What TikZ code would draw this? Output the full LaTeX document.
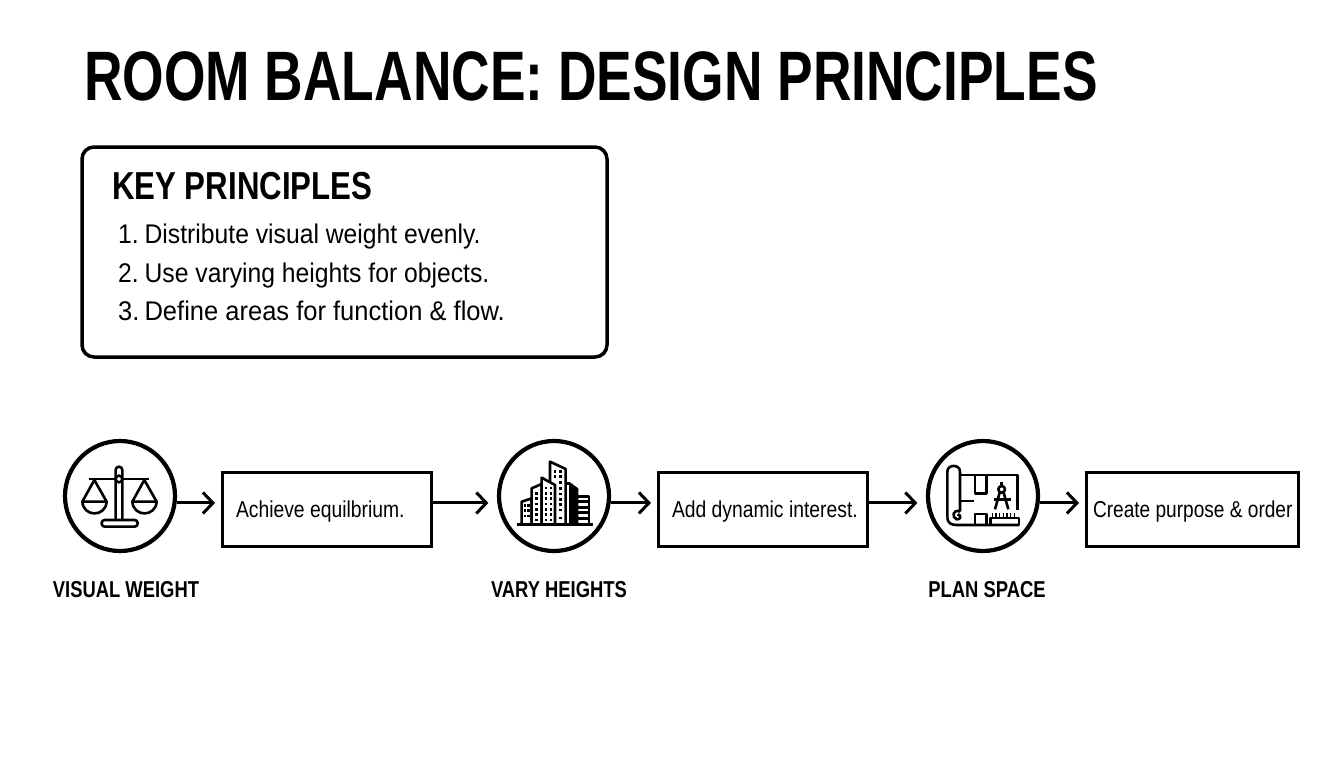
\documentclass[tikz,border=0pt]{standalone}
\usepackage{fontspec}
\setmainfont{Liberation Sans}
\newfontfamily\condfont[FakeStretch=0.8]{Liberation Sans}
\newfontfamily\titlefont[FakeStretch=0.762]{Liberation Sans}
\newfontfamily\listfont[FakeStretch=0.915]{Liberation Sans}
\newfontfamily\widelistfont[FakeStretch=0.945]{Liberation Sans}
\newfontfamily\boxfont[FakeStretch=0.84]{Liberation Sans}
\newfontfamily\lastboxfont[FakeStretch=0.83]{Liberation Sans}
\usetikzlibrary{arrows.meta}
\tikzset{
  stepcircle/.style={circle,draw,line width=4.2pt,minimum size=110pt,inner sep=0pt},
  stepbox/.style={rectangle,draw,line width=3pt,minimum height=74pt,inner xsep=14pt,inner ysep=0pt,align=flush left,text width=181pt,text height=16pt,text depth=0pt,font=\boxfont\fontsize{23}{26}\selectfont},
  steparrow/.style={line width=3pt,-{Straight Barb[length=10pt,width=21pt,line width=3pt]},shorten >=5.5pt},
  tocircle/.style={steparrow,shorten >=8.5pt},
  steplabel/.style={font=\condfont\bfseries\fontsize{23}{26}\selectfont},
  listline/.style={anchor=base west,inner sep=0pt,font=\listfont\fontsize{27}{32}\selectfont},
  iconline/.style={line width=2.6pt,line join=round},
}
\begin{document}
\begin{tikzpicture}[x=1pt,y=-1pt]
\useasboundingbox (0,0) rectangle (1344,768);

\node[anchor=base west,inner sep=0pt,font=\titlefont\bfseries\fontsize{70}{80}\selectfont] (title) at (84,100) {ROOM BALANCE: DESIGN PRINCIPLES};

\draw[line width=3.5pt,rounded corners=12pt] (82,147) rectangle (607,357);
\node[anchor=base west,inner sep=0pt,font=\condfont\bfseries\fontsize{39}{44}\selectfont] (keyhead) at (112,199) {KEY PRINCIPLES};
\node[listline] (item1) at (118,243) {1.\kern-1pt\ Distribute visual weight evenly.};
\node[listline] (item2) at (118,282) {2.\kern-1pt\ Use varying heights for objects.};
\node[listline,font=\widelistfont\fontsize{27}{32}\selectfont] (item3) at (118,320) {3.\kern-2pt\ Define areas for function \& flow.};

\node[stepcircle] (weight) at (120,496) {};
\node[stepcircle] (heights) at (554,496) {};
\node[stepcircle] (space) at (983,496) {};
\node[stepbox] (equil) at (326.5,509) {\mbox{Achieve equilbrium.}};
\node[stepbox] (interest) at (762.5,509) {\mbox{Add dynamic interest.}};
\node[stepbox,inner xsep=7pt,text width=198pt,font=\lastboxfont\fontsize{23}{26}\selectfont] (order) at (1192,509) {\mbox{Create purpose \& order}};

\draw[steparrow] (weight.-7) -- (equil.west |- weight.-7);
\draw[tocircle] (equil.east |- weight.-7) -- (heights.west |- weight.-7);
\draw[steparrow] (heights.-7) -- (interest.west |- heights.-7);
\draw[tocircle] (interest.east |- heights.-7) -- (space.west |- heights.-7);
\draw[steparrow] (space.-7) -- (order.west |- space.-7);

\node[steplabel] (weightlabel) at (126,590) {VISUAL WEIGHT};
\node[steplabel] (heightslabel) at (559,590) {VARY HEIGHTS};
\node[steplabel] (spacelabel) at (987,590) {PLAN SPACE};

% scales
\begin{scope}[shift={(50,430)},x=0.3333pt,y=-0.3333pt,iconline]
\draw (197,270) -- (197,120) arc[start angle=180,end angle=360,radius=10] -- (217,270);
\draw[fill=white] (207,147) circle[radius=10];
\draw (118,147) -- (197,147) (217,147) -- (298,147);
\draw[rounded corners=3pt] (155,270) rectangle (263,290);
\draw (133,150) -- (97,215) -- (170,215) -- cycle;
\draw (97,215) .. controls (100,262) and (167,262) .. (170,215);
\draw (283,150) -- (247,215) -- (320,215) -- cycle;
\draw (247,215) .. controls (250,262) and (317,262) .. (320,215);
\end{scope}

% buildings
\begin{scope}[shift={(490,430)},x=0.3333pt,y=-0.3333pt,iconline]
\draw[fill=white] (180,284) -- (180,95) -- (227,117) -- (227,284) -- cycle;
\draw[fill=white] (95,284) -- (95,215) -- (125,205) -- (125,284);
\draw[fill=white] (125,284) -- (125,175) -- (155,162) -- (155,284);
\draw[fill=white] (155,284) -- (155,143) -- (195,165) -- (195,284);
\fill (240,157) -- (265,175) -- (265,284) -- (240,284) -- cycle;
\draw (227,160) -- (240,160) (240,284) -- (240,160);
\draw (256,200) -- (297,200) -- (297,284);
\foreach \yy in {215,232,247,265} \draw (256,\yy) -- (297,\yy);
\foreach \xx in {105,115} \foreach \yy in {226,242,258}
  \fill (\xx-4,\yy-4) rectangle (\xx+4,\yy+4);
\foreach \yy in {190,206,222,238,254,270}
  \fill (136,\yy-4) rectangle (144,\yy+4);
\foreach \xx in {168,183} \foreach \yy in {174,190,206,222,238,254,270}
  \fill (\xx-4,\yy-4) rectangle (\xx+4,\yy+4);
\foreach \xx in {195,212} \foreach \yy in {124,140}
  \fill (\xx-4,\yy-4) rectangle (\xx+4,\yy+4);
\foreach \yy in {158,176,192,208,224,240,264}
  \fill (208,\yy-4) rectangle (216,\yy+4);
\draw (82,284) -- (308,284);
\end{scope}

% plan
\begin{scope}[shift={(915,430)},x=0.3333pt,y=-0.3333pt,iconline]
\draw (135,245) -- (135,125) .. controls (135,102) and (97,102) .. (97,125) -- (97,262);
\draw (97,262) .. controls (97,278) and (108,285) .. (125,285) -- (312,285);
\draw (135,135) -- (308,135) -- (308,240);
\draw (135,245) .. controls (115,235) and (108,262) .. (125,268) .. controls (138,270) and (140,255) .. (128,253);
\draw (180,135) -- (180,190) -- (215,190) -- (215,135);
\draw (135,213) -- (178,213);
\draw (180,285) -- (180,252) -- (215,252) -- (215,285);
\draw (260,178) circle[radius=10];
\draw (260,168) -- (260,155);
\draw (254,188) -- (240,238) (266,188) -- (280,238);
\draw (238,208) -- (287,208);
\draw (226,264) rectangle (312,285);
\foreach \xx in {232,243,...,298} \draw[line width=1.5pt] (\xx,250) -- (\xx,264);
\end{scope}
\end{tikzpicture}
\end{document}
